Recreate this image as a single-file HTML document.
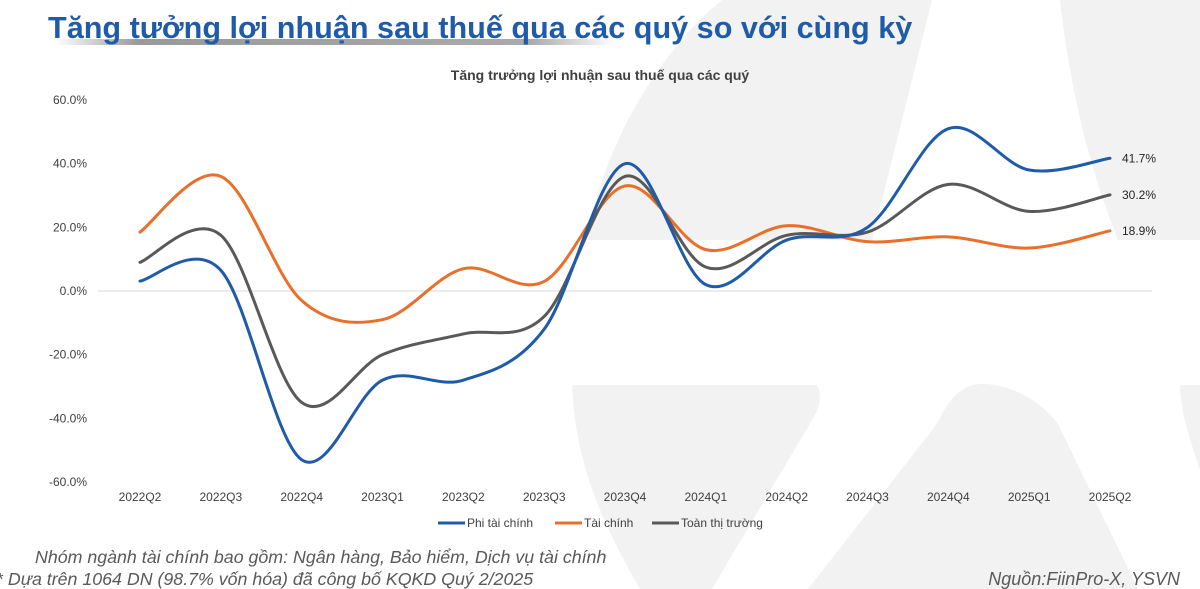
<!DOCTYPE html>
<html><head><meta charset="utf-8"><style>
html,body{margin:0;padding:0;background:#fff;}
body{width:1200px;height:589px;overflow:hidden;position:relative;font-family:"Liberation Sans","Noto Sans CJK SC",sans-serif;}
svg{position:absolute;left:0;top:0;}
</style></head><body>
<svg id="chart" width="1200" height="589">
<defs><linearGradient id="sh" x1="0" x2="1"><stop offset="0" stop-color="#fff"/><stop offset="0.15" stop-color="#999"/><stop offset="0.85" stop-color="#aaa"/><stop offset="1" stop-color="#fff"/></linearGradient></defs>
<g fill="#f2f2f2">
<path d="M588,240 C600,150 660,50 722,0 L932,0 L872,240 Z"/>
<path d="M1060,0 L1200,0 L1200,240 L1118,240 C1090,170 1070,90 1060,0 Z"/>
<path d="M572,385 L817,385 C822,395 820,405 815,415 L712,589 L640,589 C600,520 575,460 572,385 Z"/>
<path d="M808,589 L937,424 C950,395 965,384 982,384 C1010,384 1040,400 1058,424 L1138,589 Z"/>
<path d="M1180,385 L1200,385 L1200,470 C1190,440 1180,410 1180,385 Z"/>
</g>
<rect x="55" y="39" width="560" height="6" fill="url(#sh)"/>
<text x="48" y="38" font-size="30.6" font-weight="bold" fill="#1f5ba8">Tăng tưởng lợi nhuận sau thuế qua các quý so với cùng kỳ</text>
<text x="600" y="80" font-size="14" font-weight="bold" fill="#404040" text-anchor="middle">Tăng trưởng lợi nhuận sau thuế qua các quý</text>
<g id="yaxis"></g>
<g id="xaxis"></g>
<g id="series"></g>
<g font-size="12" fill="#404040">
<line x1="438" y1="523" x2="465" y2="523" stroke="#1f5ba8" stroke-width="3"/><text x="467" y="527">Phi tài chính</text>
<line x1="555" y1="523" x2="582" y2="523" stroke="#e8702a" stroke-width="3"/><text x="584" y="527">Tài chính</text>
<line x1="652" y1="523" x2="679" y2="523" stroke="#595959" stroke-width="3"/><text x="681" y="527">Toàn thị trường</text>
</g>
<text x="35" y="563" font-size="17.8" font-style="italic" fill="#595959">Nhóm ngành tài chính bao gồm: Ngân hàng, Bảo hiểm, Dịch vụ tài chính</text>
<text x="-4" y="585" font-size="17.8" font-style="italic" fill="#595959">* Dựa trên 1064 DN (98.7% vốn hóa) đã công bố KQKD Quý 2/2025</text>
<text x="1180" y="585" font-size="18" font-style="italic" fill="#595959" text-anchor="end">Nguồn:FiinPro-X, YSVN</text>
</svg>
<script>
const categories=["2022Q2","2022Q3","2022Q4","2023Q1","2023Q2","2023Q3","2023Q4","2024Q1","2024Q2","2024Q3","2024Q4","2025Q1","2025Q2"];
const phiTaiChinh=[3.1,6.5,-53,-28,-28,-12,40,2,16,20,51,38,41.7];
const taiChinh=[18.5,36,-3,-9,7,3,33,13,20.5,15.5,17,13.5,18.9];
const toanThiTruong=[9,17.5,-35,-20,-13.5,-8,36,7.5,17.5,18.5,33.5,25,30.2];
const yTicks=[60,40,20,0,-20,-40,-60];
const endLabels=["41.7%","30.2%","18.9%"];
const NS="http://www.w3.org/2000/svg";
const x=i=>140+i*(1110-140)/(categories.length-1);
const y=v=>291-v*(291-100)/60;
function mk(t,a,p){const e=document.createElementNS(NS,t);for(const k in a)e.setAttribute(k,a[k]);p.appendChild(e);return e;}
const ya=document.getElementById('yaxis'),xa=document.getElementById('xaxis'),sg=document.getElementById('series');
yTicks.forEach(v=>{const t=mk('text',{x:87,y:y(v)+4,'font-size':12,fill:'#404040','text-anchor':'end'},ya);t.textContent=v.toFixed(1)+'%';

});
const zl=mk('line',{x1:98,x2:1152,y1:y(0),y2:y(0),stroke:'#d9d9d9','stroke-width':1},ya);


categories.forEach((c,i)=>{const t=mk('text',{x:x(i),y:501,'font-size':12,fill:'#404040','text-anchor':'middle'},xa);t.textContent=c;

});
function path(vals){const p=vals.map((v,i)=>[x(i),y(v)]);let d='M'+p[0][0]+','+p[0][1];
for(let i=0;i<p.length-1;i++){const p0=p[Math.max(i-1,0)],p1=p[i],p2=p[i+1],p3=p[Math.min(i+2,p.length-1)];
d+=' C'+(p1[0]+(p2[0]-p0[0])/6)+','+(p1[1]+(p2[1]-p0[1])/6)+' '+(p2[0]-(p3[0]-p1[0])/6)+','+(p2[1]-(p3[1]-p1[1])/6)+' '+p2[0]+','+p2[1];}return d;}
const ser=[[taiChinh,'#e8702a','series-tai-chinh'],[toanThiTruong,'#595959','series-toan-thi-truong'],[phiTaiChinh,'#1f5ba8','series-phi-tai-chinh']];
ser.forEach(s=>{const e=mk('path',{d:path(s[0]),fill:'none',stroke:s[1],'stroke-width':3,'stroke-linecap':'round'},sg);

});
[phiTaiChinh,toanThiTruong,taiChinh].forEach((s,k)=>{const n=s.length-1;const t=mk('text',{x:x(n)+12,y:y(s[n])+4,'font-size':12,fill:'#262626'},sg);t.textContent=endLabels[k];

});
</script>
</body></html>
